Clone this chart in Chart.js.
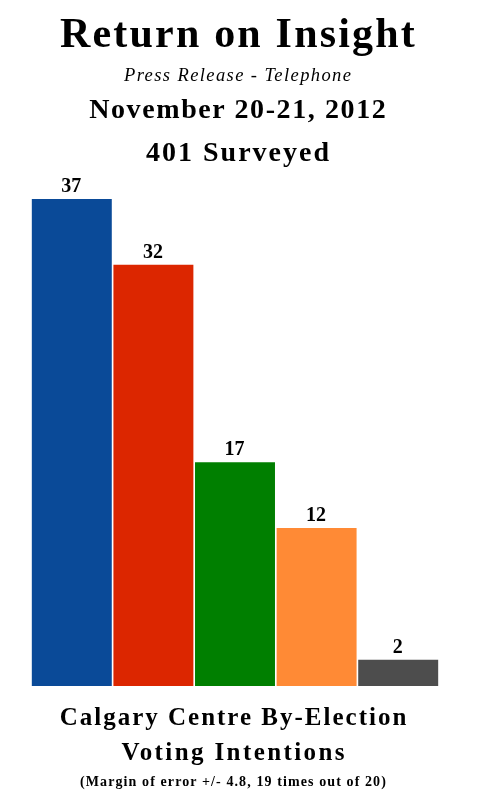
<!DOCTYPE html>
<html>
<head>
<meta charset="utf-8">
<script src="https://cdn.jsdelivr.net/npm/chart.js@4/dist/chart.umd.min.js"></script>
<style>
  html, body { margin:0; padding:0; background:#fff; }
  #wrap { position:relative; width:486px; height:808px; overflow:hidden; }
  canvas { position:absolute; left:0; top:0; }
  .t { position:absolute; text-align:center; font-family:"Liberation Serif", serif; color:#000; line-height:1; white-space:nowrap; }
  .top { width:475px; }
  .bot { width:466px; }
</style>
</head>
<body>
<div id="wrap">
  <canvas id="c" width="486" height="808"></canvas>
  <div class="t top" style="left:1px; top:11.5px; font-size:42px; font-weight:bold; letter-spacing:2.2px;">Return on Insight</div>
  <div class="t top" style="left:0.7px; top:65.5px; font-size:18.5px; font-style:italic; letter-spacing:1.4px;">Press Release - Telephone</div>
  <div class="t top" style="left:0.8px; top:95px; font-size:28px; font-weight:bold; letter-spacing:1.6px;">November 20-21, 2012</div>
  <div class="t top" style="left:1px; top:138px; font-size:28px; font-weight:bold; letter-spacing:2px;">401 Surveyed</div>
  <div class="t bot" style="left:1px; top:704px; font-size:25px; font-weight:bold; letter-spacing:2px;">Calgary Centre By-Election</div>
  <div class="t bot" style="left:1.2px; top:739px; font-size:25px; font-weight:bold; letter-spacing:2.4px;">Voting Intentions</div>
  <div class="t bot" style="left:0.5px; top:775px; font-size:14px; font-weight:bold; letter-spacing:1.1px;">(Margin of error +/- 4.8, 19 times out of 20)</div>
</div>
<script>
const categories = ["PC", "Liberal", "Green", "Wildrose", "Other"];
const values = [37, 32, 17, 12, 2];
const colors = ["#0a4a98", "#dc2600", "#007f00", "#ff8a35", "#4d4d4d"];

const labelPlugin = {
  id: 'valLabels',
  afterDatasetsDraw(chart) {
    const ctx = chart.ctx;
    const meta = chart.getDatasetMeta(0);
    ctx.save();
    ctx.font = 'bold 20px "Liberation Serif", serif';
    ctx.fillStyle = '#000';
    ctx.textAlign = 'center';
    ctx.textBaseline = 'alphabetic';
    meta.data.forEach((bar, i) => {
      ctx.fillText(String(values[i]), bar.x - 0.5, bar.y - 7);
    });
    ctx.restore();
  }
};

new Chart(document.getElementById('c'), {
  type: 'bar',
  data: {
    labels: categories,
    datasets: [{
      data: values,
      backgroundColor: colors,
      borderWidth: 0,
      barPercentage: 0.98,
      categoryPercentage: 1.0
    }]
  },
  options: {
    responsive: false,
    animation: false,
    layout: { padding: { left: 31, right: 47, top: 159.5, bottom: 122 } },
    plugins: { legend: { display: false }, tooltip: { enabled: false } },
    scales: {
      x: { display: false },
      y: { display: false, min: 0, max: 40 }
    }
  },
  plugins: [labelPlugin]
});
</script>
</body>
</html>
